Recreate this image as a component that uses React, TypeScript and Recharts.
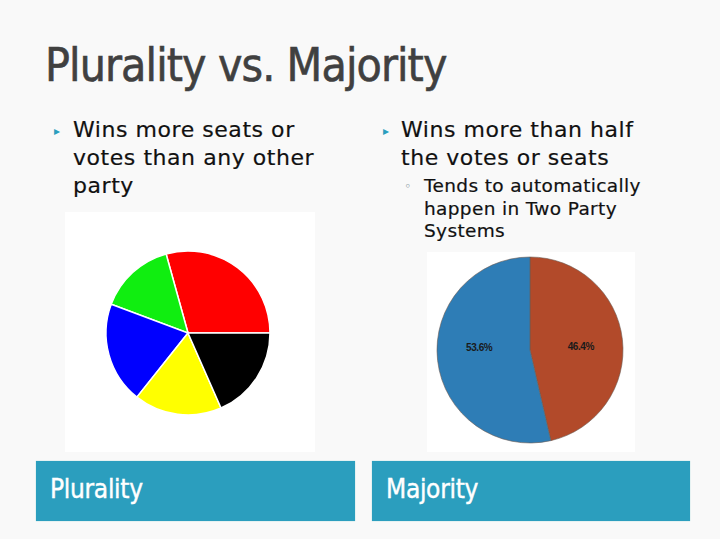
import { Cell, Pie, PieChart } from "recharts";

// plurality pie (counter-clockwise from 3 o'clock)
const pluralityParties = ["Red", "Green", "Blue", "Yellow", "Black"];
const pluralityShares = [29.3, 15, 20, 17.3, 18.4];
const pluralityColors = ["#FF0000", "#10EE10", "#0000FF", "#FFFF00", "#000000"];

// majority pie (clockwise from 12 o'clock)
const majorityParties = ["Party B", "Party A"];
const majorityShares = [46.4, 53.6];
const majorityColors = ["#B24A2A", "#2E7DB6"];

const pluralityData = pluralityParties.map((name, i) => ({ name, value: pluralityShares[i] }));
const majorityData = majorityParties.map((name, i) => ({ name, value: majorityShares[i] }));

const RAD = Math.PI / 180;

const renderPctLabel = (props: any) => {
  const { cx, cy, midAngle, outerRadius, value } = props;
  const r = outerRadius * 0.55;
  const x = cx + r * Math.cos(-midAngle * RAD);
  const y = cy + r * Math.sin(-midAngle * RAD) * 0.15 - 3;
  return (
    <text
      x={x}
      y={y}
      textAnchor="middle"
      dominantBaseline="central"
      fill="#1a1a1a"
      fontSize={10}
      fontWeight="bold"
      letterSpacing={-0.4}
      fontFamily="Liberation Sans Narrow, Liberation Sans, sans-serif"
    >
      {value.toFixed(1)}%
    </text>
  );
};

const titleFont = "'DejaVu Sans Condensed', 'DejaVu Sans', sans-serif";
const bodyFont = "'DejaVu Sans', sans-serif";
const teal = "#2B9EBE";

export default function App() {
  return (
    <div style={{ position: "relative", width: 720, height: 539, background: "#f9f9f9", overflow: "hidden" }}>
      <style>{`body{margin:0}`}</style>

      <div style={{ position: "absolute", left: 45, top: 42, fontFamily: titleFont, fontSize: 46, lineHeight: "46px", letterSpacing: -0.9, color: "#404040", WebkitTextStroke: "0.6px #404040" }}>
        Plurality vs. Majority
      </div>

      {/* left bullets */}
      <div style={{ position: "absolute", left: 54, top: 117, fontSize: 12, lineHeight: "28px", color: teal }}>▸</div>
      <div style={{ position: "absolute", left: 73, top: 116, width: 290, fontFamily: bodyFont, fontSize: 22, lineHeight: "28px", letterSpacing: 0.55, color: "#111", WebkitTextStroke: "0.2px #111" }}>
        Wins more seats or<br />votes than any other<br />party
      </div>

      {/* right bullets */}
      <div style={{ position: "absolute", left: 383, top: 117, fontSize: 12, lineHeight: "28px", color: teal }}>▸</div>
      <div style={{ position: "absolute", left: 401, top: 116, width: 310, fontFamily: bodyFont, fontSize: 22, lineHeight: "28px", letterSpacing: 0.55, color: "#111", WebkitTextStroke: "0.2px #111" }}>
        Wins more than half<br />the votes or seats
      </div>
      <div style={{ position: "absolute", left: 405, top: 175, fontSize: 14, lineHeight: "22px", color: "#99aab0" }}>◦</div>
      <div style={{ position: "absolute", left: 424, top: 175, width: 290, fontFamily: bodyFont, fontSize: 18.5, lineHeight: "22.5px", letterSpacing: 0.35, color: "#111", WebkitTextStroke: "0.2px #111" }}>
        Tends to automatically<br />happen in Two Party<br />Systems
      </div>

      {/* plurality pie */}
      <div style={{ position: "absolute", left: 65, top: 212, width: 250, height: 240, background: "#ffffff" }}>
        <PieChart width={250} height={240}>
          <Pie
            data={pluralityData}
            dataKey="value"
            nameKey="name"
            cx={118}
            cy={116}
            outerRadius={82}
            startAngle={0}
            endAngle={360}
            stroke="#ffffff"
            strokeWidth={1.5}
            isAnimationActive={false}
          >
            {pluralityData.map((d, i) => (
              <Cell key={d.name} fill={pluralityColors[i]} />
            ))}
          </Pie>
        </PieChart>
      </div>

      {/* majority pie */}
      <div style={{ position: "absolute", left: 427, top: 252, width: 208, height: 200, background: "#ffffff" }}>
        <PieChart width={208} height={200}>
          <Pie
            data={majorityData}
            dataKey="value"
            nameKey="name"
            cx={98}
            cy={93}
            outerRadius={93}
            startAngle={90}
            endAngle={-270}
            stroke="#6b5a52"
            strokeWidth={0.6}
            label={renderPctLabel}
            labelLine={false}
            isAnimationActive={false}
          >
            {majorityData.map((d, i) => (
              <Cell key={d.name} fill={majorityColors[i]} />
            ))}
          </Pie>
        </PieChart>
      </div>

      {/* bottom captions */}
      <div style={{ position: "absolute", left: 36, top: 461, width: 319, height: 60, background: teal, boxShadow: "0 0 1px #8cc" }}>
        <div style={{ position: "absolute", left: 14, top: 14, fontFamily: titleFont, fontSize: 26, lineHeight: "28px", letterSpacing: -0.3, color: "#ffffff", WebkitTextStroke: "0.4px #ffffff" }}>
          Plurality
        </div>
      </div>
      <div style={{ position: "absolute", left: 372, top: 461, width: 318, height: 60, background: teal, boxShadow: "0 0 1px #8cc" }}>
        <div style={{ position: "absolute", left: 14, top: 14, fontFamily: titleFont, fontSize: 26, lineHeight: "28px", letterSpacing: -0.3, color: "#ffffff", WebkitTextStroke: "0.4px #ffffff" }}>
          Majority
        </div>
      </div>
    </div>
  );
}
